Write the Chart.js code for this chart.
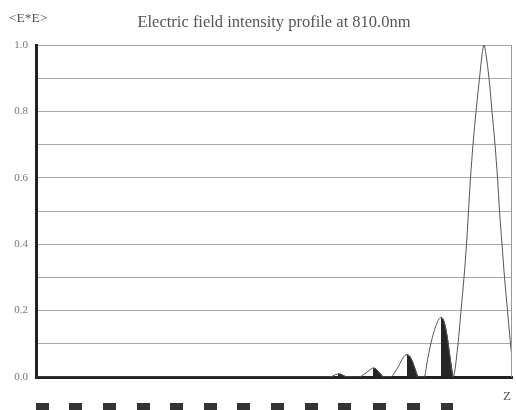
<!DOCTYPE html>
<html>
<head>
<meta charset="utf-8">
<script src="https://cdn.jsdelivr.net/npm/chart.js@4.4.0/dist/chart.umd.min.js"></script>
<style>
  html, body { margin: 0; padding: 0; background: #fff; }
  #wrap { width: 516px; height: 410px; }
</style>
</head>
<body>
<div id="wrap"><canvas id="profile"></canvas></div>
<script>
// intensity profile (z in plot units, 0 = left edge)
const zPos = [0, 294, 298, 302, 304, 306, 309, 310,
  323, 327, 331, 334, 337, 340, 343, 346, 347,
  355, 359, 363, 367, 371, 374, 377, 380, 382,
  388, 392, 396, 400, 403, 405, 408, 411, 414, 417,
  422, 425, 428, 430.5, 432.5, 434.5, 437, 440, 443.5, 446, 448,
  450, 453, 456, 459, 461.5, 463.5, 466, 468.5, 471.5, 474.5, 478];
const intensity = [0, 0, 0.005, 0.009, 0.009, 0.007, 0.002, 0,
  0, 0.006, 0.015, 0.022, 0.027, 0.024, 0.014, 0.004, 0,
  0, 0.015, 0.035, 0.058, 0.068, 0.061, 0.042, 0.016, 0,
  0, 0.06, 0.115, 0.155, 0.175, 0.18, 0.167, 0.125, 0.06, 0,
  0.1, 0.2, 0.3, 0.4, 0.5, 0.6, 0.7, 0.8, 0.9, 0.97, 1.0,
  0.97, 0.9, 0.8, 0.7, 0.6, 0.5, 0.4, 0.3, 0.2, 0.1, 0];

// high index layers of the stack (drawn as blocks under the axis)
const layerStart = [0, 33, 67, 101, 134, 168, 201, 235, 269, 302, 337, 371, 405];
const layerEnd = [13, 46, 80, 114, 147, 181, 214, 248, 282, 315, 350, 384, 417];

const yTickLabels = ['0.0', '0.2', '0.4', '0.6', '0.8', '1.0'];
const chartTitle = 'Electric field intensity profile at 810.0nm';
const yLabel = '<E*E>';
const xLabel = 'Z';

const curve = zPos.map((z, i) => ({ x: z, y: intensity[i] }));

// filled part of the curve inside each layer
const fillSets = layerStart.map((s, i) => {
    const pts = curve.filter(p => p.x >= s && p.x <= layerEnd[i]);
    return {
        data: pts,
        borderWidth: 1,
        borderColor: '#262626',
        backgroundColor: '#262626',
        fill: 'origin',
        cubicInterpolationMode: 'monotone',
        pointRadius: 0,
        order: 2
    };
}).filter(ds => ds.data.some(p => p.y > 0));

const decorations = {
    id: 'decorations',
    afterDraw(chart) {
        const { ctx, chartArea: a, scales: { x } } = chart;
        ctx.save();
        // right frame line
        ctx.strokeStyle = '#9a9a9a';
        ctx.lineWidth = 1;
        ctx.beginPath();
        ctx.moveTo(a.right - 0.5, a.top);
        ctx.lineTo(a.right - 0.5, a.bottom);
        ctx.stroke();

        // layer blocks
        ctx.fillStyle = '#333';
        layerStart.forEach((s, i) => {
            const x0 = x.getPixelForValue(s);
            const x1 = x.getPixelForValue(layerEnd[i]);
            ctx.fillRect(x0, a.bottom + 26, x1 - x0, 10);
        });

        // texts
        ctx.fillStyle = '#555';
        ctx.textBaseline = 'alphabetic';
        ctx.font = '16.5px "Liberation Serif"';
        ctx.textAlign = 'center';
        ctx.fillText(chartTitle, 274, 27);
        ctx.font = '13.5px "Liberation Serif"';
        ctx.textAlign = 'left';
        ctx.fillText(yLabel, 9, 22);
        ctx.font = '13px "Liberation Serif"';
        ctx.fillText(xLabel, 503, 400);
        ctx.restore();
    }
};

new Chart(document.getElementById('profile'), {
    type: 'line',
    data: {
        datasets: [{
            data: curve,
            borderColor: '#555',
            borderWidth: 1,
            fill: false,
            cubicInterpolationMode: 'monotone',
            pointRadius: 0,
            order: 1
        }, ...fillSets]
    },
    options: {
        responsive: true,
        maintainAspectRatio: false,
        animation: false,
        devicePixelRatio: 1,
        layout: { padding: { top: 45, bottom: 33, left: 0, right: 4 } },
        plugins: {
            legend: { display: false },
            title: { display: false },
            tooltip: { enabled: false }
        },
        scales: {
            x: {
                type: 'linear',
                min: 0,
                max: 476,
                ticks: { display: false },
                grid: { display: false },
                border: { color: '#222', width: 3 },
                afterFit: scale => { scale.height = 0; }
            },
            y: {
                min: 0,
                max: 1,
                ticks: {
                    stepSize: 0.1,
                    padding: 8,
                    color: '#777',
                    font: { family: 'Liberation Serif', size: 11 },
                    callback: v => {
                        const label = v.toFixed(1);
                        return yTickLabels.includes(label) ? label : '';
                    }
                },
                grid: { color: '#a8a8a8', lineWidth: 1, drawTicks: false },
                border: { color: '#222', width: 3 },
                afterFit: scale => { scale.width = 36; }
            }
        }
    },
    plugins: [decorations]
});
</script>
</body>
</html>
